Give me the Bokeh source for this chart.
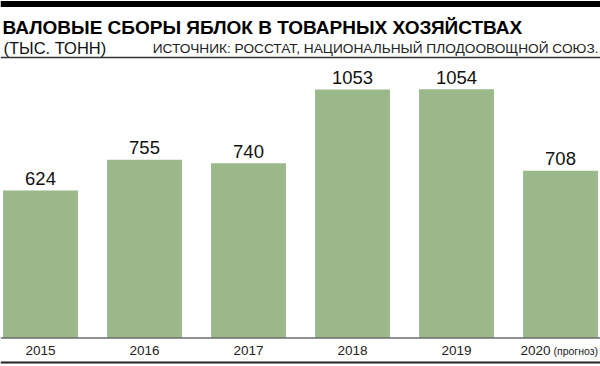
from bokeh.plotting import figure
from bokeh.models import Range1d, Label, Span, ColumnDataSource
from bokeh.core.properties import value
from bokeh.embed import file_html
from bokeh.resources import INLINE

# ---- data ----
years = ["2015", "2016", "2017", "2018", "2019", "2020"]
harvest = [624, 755, 740, 1053, 1054, 708]
forecast_note = "(прогноз)"
title = "ВАЛОВЫЕ СБОРЫ ЯБЛОК В ТОВАРНЫХ ХОЗЯЙСТВАХ"
unit = "(ТЫС. ТОНН)"
source = "ИСТОЧНИК: РОССТАТ, НАЦИОНАЛЬНЫЙ ПЛОДООВОЩНОЙ СОЮЗ."

W, H = 600, 366
BASE = 337          # pixel row of the bar baseline
SCALE = 0.2355      # px per thousand tonnes
X0, PITCH = 40, 104 # centre of first bar, spacing in px
LABEL_GAP = 12      # px between bar top and value label centre

def ypx(pix):
    return (BASE - pix) / SCALE

def xpx(pix):
    return (pix - X0) / PITCH

FONT = "Liberation Sans"
GREEN = "#9bb88a"

p = figure(width=W, height=H, output_backend="svg", toolbar_location=None,
           x_range=Range1d(xpx(0), xpx(W)), y_range=Range1d(ypx(H), ypx(0)),
           min_border=0)
p.axis.visible = False
p.grid.visible = False
p.outline_line_color = None
p.background_fill_color = "white"

idx = list(range(len(years)))
src = ColumnDataSource(dict(x=idx, top=harvest,
                            ly=[v + LABEL_GAP / SCALE for v in harvest],
                            lab=[str(v) for v in harvest]))
p.vbar(x="x", top="top", bottom=0, width=0.72, source=src,
       fill_color=GREEN, line_color=None)

p.text(x="x", y="ly", text="lab", source=src, text_align="center",
       text_baseline="middle",
       text_font=value(FONT), text_font_size="18.5px", text_color="#111111")

# year labels
src_yr = ColumnDataSource(dict(x=idx[:-1], yr=years[:-1]))
p.text(x="x", y=ypx(350), text="yr", source=src_yr, text_align="center",
       text_baseline="middle", text_font=value(FONT),
       text_font_size="13.5px", text_color="#222222")
p.text(x=[idx[-1]], y=[ypx(350)], text=[years[-1]], text_align="right",
       x_offset=-10, text_baseline="middle", text_font=value(FONT),
       text_font_size="13.5px", text_color="#222222")
p.text(x=[idx[-1]], y=[ypx(350.5)], text=[forecast_note], text_align="left",
       x_offset=-7, text_baseline="middle", text_font=value(FONT),
       text_font_size="10.5px", text_color="#222222")

# rules
p.add_layout(Span(location=ypx(3.5), dimension="width", line_color="black", line_width=6))
p.add_layout(Span(location=ypx(57), dimension="width", line_color="#333333", line_width=1.5))
p.add_layout(Span(location=ypx(337.5), dimension="width", line_color="#222222", line_width=1))
p.add_layout(Span(location=ypx(362), dimension="width", line_color="#222222", line_width=2))

# header texts
p.add_layout(Label(x=xpx(2), y=ypx(27), text=title, text_font=FONT,
                   text_font_style="bold", text_font_size="19px",
                   text_color="black", text_baseline="alphabetic"))
p.add_layout(Label(x=xpx(3), y=ypx(47), text=unit, text_font=FONT,
                   text_font_size="16.5px", text_color="#111111",
                   text_baseline="alphabetic"))
p.add_layout(Label(x=xpx(598), y=ypx(47.5), text=source, text_font=FONT,
                   text_font_size="13.7px", text_color="#222222",
                   text_align="right", text_baseline="alphabetic"))

open("out.html", "w").write(file_html(p, INLINE))
